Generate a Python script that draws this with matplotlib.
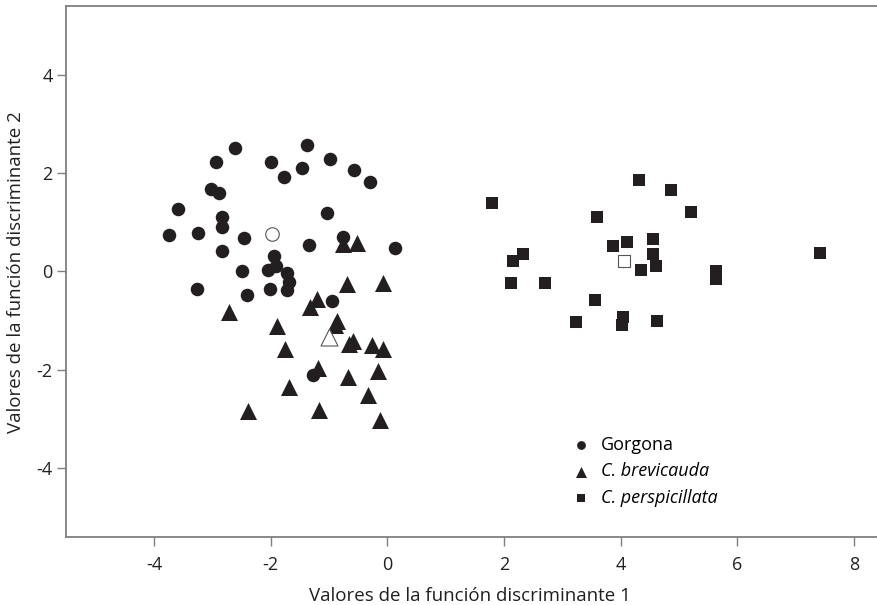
import numpy as np
import matplotlib
matplotlib.use("Agg")
import matplotlib.pyplot as plt

plt.rcParams['font.family'] = ['Open Sans', 'DejaVu Sans']
plt.rcParams['axes.unicode_minus'] = False

# Gorgona (circles)
gorgona_x = [-3.75, -3.59, -3.27, -3.25, -3.03, -2.94, -2.89, -2.83, -2.84, -2.83,
             -2.62, -2.50, -2.46, -2.40, -1.99, -2.02, -2.04, -1.94, -1.91, -1.78,
             -1.72, -1.68, -1.73, -1.46, -1.38, -1.35, -1.27, -1.03, -0.99, -0.95,
             -0.77, -0.57, -0.29, 0.13]
gorgona_y = [0.74, 1.27, -0.36, 0.79, 1.67, 2.22, 1.60, 1.10, 0.90, 0.42,
             2.51, 0.00, 0.68, -0.47, 2.23, -0.36, 0.02, 0.32, 0.12, 1.93,
             -0.04, -0.21, -0.38, 2.10, 2.58, 0.53, -2.11, 1.19, 2.29, -0.61,
             0.71, 2.06, 1.81, 0.48]
gorgona_centroid = (-1.98, 0.77)

# C. brevicauda (triangles)
brevi_x = [-2.71, -1.21, -1.33, -0.70, -0.08, -1.89, -0.87, -0.90, -0.59, -0.66,
           -0.27, -0.08, -1.76, -1.19, -0.67, -0.16, -1.68, -0.33, -2.39, -1.17,
           -0.12, -0.76, -0.52]
brevi_y = [-0.83, -0.57, -0.73, -0.25, -0.23, -1.11, -1.00, -1.09, -1.41, -1.48,
           -1.50, -1.58, -1.58, -1.97, -2.14, -2.02, -2.36, -2.52, -2.84, -2.82,
           -3.02, 0.56, 0.57]
brevi_centroid = (-1.00, -1.34)

# C. perspicillata (squares)
persp_x = [1.79, 2.12, 2.16, 2.32, 2.71, 3.24, 3.56, 3.59, 3.87, 4.04, 4.02, 4.11,
           4.31, 4.34, 4.55, 4.56, 4.60, 4.63, 4.86, 5.21, 5.63, 5.63, 7.42]
persp_y = [1.39, -0.23, 0.22, 0.35, -0.23, -1.03, -0.58, 1.10, 0.52, -0.92, -1.10, 0.59,
           1.85, 0.03, 0.66, 0.35, 0.12, -1.01, 1.65, 1.21, 0.00, -0.16, 0.37]
persp_centroid = (4.06, 0.22)

dark = '#231f20'
gray = '#7f7f7f'

fig = plt.figure(figsize=(8.78, 6.05), dpi=100)
ax = fig.add_axes([66 / 878, 1 - 537.3 / 605, 1 - 66 / 878, (537.3 - 6) / 605])

ax.scatter(gorgona_x, gorgona_y, marker='o', s=95, color=dark, linewidths=0, label='Gorgona')
ax.scatter(brevi_x, brevi_y, marker='^', s=150, color=dark, linewidths=0, label='C. brevicauda')
ax.scatter(persp_x, persp_y, marker='s', s=85, color=dark, linewidths=0, label='C. perspicillata')

# group centroids (open markers)
ax.scatter(*gorgona_centroid, marker='o', s=95, facecolor='white', edgecolor='#555555', linewidths=0.8)
ax.scatter(*brevi_centroid, marker='^', s=150, facecolor='white', edgecolor='#555555', linewidths=0.8)
ax.scatter(*persp_centroid, marker='s', s=85, facecolor='white', edgecolor='#555555', linewidths=0.8)

ax.set_xlim(-5.51, 8.41)
ax.set_ylim(-5.41, 5.40)
ax.set_xticks([-4, -2, 0, 2, 4, 6, 8])
ax.set_yticks([-4, -2, 0, 2, 4])

for side in ['left', 'bottom', 'top']:
    ax.spines[side].set_color(gray)
    ax.spines[side].set_linewidth(1.3)
ax.spines['right'].set_visible(False)
ax.tick_params(direction='out', length=6.5, width=1, color=gray, labelsize=13, labelcolor=dark)
ax.tick_params(axis='x', pad=7)
ax.tick_params(axis='y', pad=3)

ax.set_xlabel('Valores de la función discriminante 1', fontsize=13.5, color=dark)
ax.set_ylabel('Valores de la función discriminante 2', fontsize=13.5, color=dark)
ax.xaxis.set_label_coords(0.497, -0.093)
ax.yaxis.set_label_coords(-0.051, 0.5)

leg = ax.legend(loc='upper left', bbox_to_anchor=(0.603, 0.205), frameon=False, fontsize=13,
                handletextpad=0.1, labelspacing=0.48, markerscale=0.65, borderaxespad=0)
for t in leg.get_texts()[1:]:
    t.set_style('italic')

fig.savefig('out.png', dpi=100)
